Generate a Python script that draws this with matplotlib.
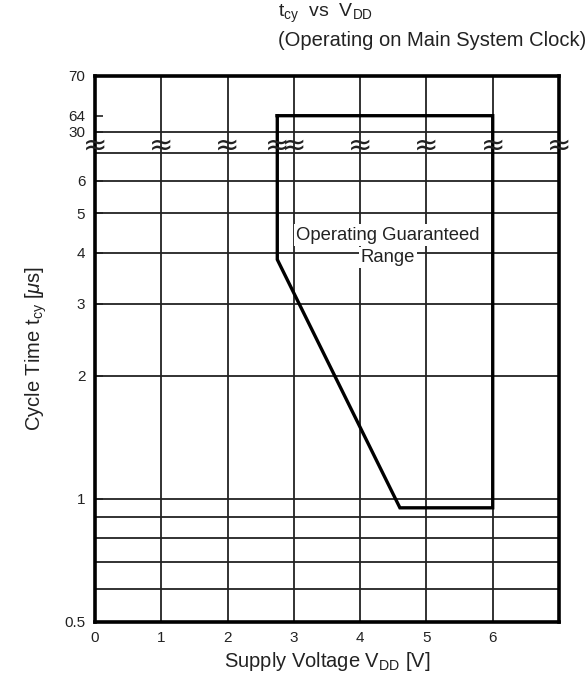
import numpy as np
import matplotlib
matplotlib.use("Agg")
import matplotlib.pyplot as plt

plt.rcParams['font.family'] = ['Liberation Sans', 'DejaVu Sans']
plt.rcParams['mathtext.fontset'] = 'custom'
plt.rcParams['mathtext.rm'] = 'Liberation Sans'
plt.rcParams['mathtext.it'] = 'Liberation Sans:italic'

# Operating guaranteed range (supply voltage [V], cycle time [us])
vdd = [2.75, 6.0, 6.0, 4.6, 2.75, 2.75]
tcy = [64, 64, 0.95, 0.95, 3.85, 64]

# axis ticks / grid
x_ticks = [0, 1, 2, 3, 4, 5, 6]
y_ticks = [0.5, 1, 2, 3, 4, 5, 6, 30, 64, 70]
y_labels = ['0.5', '1', '2', '3', '4', '5', '6', '30', '64', '70']
h_grid = [0.6, 0.7, 0.8, 0.9, 1, 2, 3, 4, 5, 6, 7, 30]
v_grid = [1, 2, 3, 4, 5, 6]
break_x = [0, 1, 2, 2.75, 3, 4, 5, 6, 7]
y_break = 7.3

# broken y axis: log below the break, squeezed above it
knot_v = np.log10([0.01, 0.5, y_break, 30, 64, 70, 1000])
knot_p = np.array([-693, 0, 475.7, 490, 506, 546, 1017])


def fwd(y):
    y = np.clip(np.asarray(y, dtype=float), 1e-3, None)
    return np.interp(np.log10(y), knot_v, knot_p)


def inv(p):
    return 10 ** np.interp(np.asarray(p, dtype=float), knot_p, knot_v)


fig = plt.figure(figsize=(5.88, 6.85), dpi=100)
ax = fig.add_axes([95 / 588, 1 - 621.7 / 685, 464 / 588, 546 / 685])
ax.set_yscale('function', functions=(fwd, inv))
ax.set_xlim(0, 7)
ax.set_ylim(0.5, 70)

for v in h_grid:
    ax.axhline(v, color='#222222', lw=1.3, zorder=1)
for v in v_grid:
    ax.axvline(v, color='#222222', lw=1.3, zorder=1)

ax.plot(vdd, tcy, color='black', lw=2.4, solid_joinstyle='miter', zorder=3)

for xb in break_x:
    ax.text(xb, y_break, '≈', ha='center', va='center', fontsize=21,
            family='DejaVu Sans', color='#222222', zorder=4)

ax.text(4.42, 4.42, 'Operating Guaranteed', ha='center', va='center', fontsize=13.3,
        color='#222222', bbox=dict(fc='white', ec='none', pad=1.5), zorder=5)
ax.text(4.42, 3.9, 'Range', ha='center', va='center', fontsize=13.3,
        color='#222222', bbox=dict(fc='white', ec='none', pad=1.5), zorder=5)

ax.set_xticks(x_ticks)
ax.set_yticks(y_ticks)
ax.set_yticklabels(y_labels)
ax.yaxis.set_minor_locator(plt.NullLocator())
ax.tick_params(axis='y', direction='in', length=6, width=1.2, pad=7, labelsize=11, colors='#222222')
ax.tick_params(axis='x', direction='in', length=0, pad=7, labelsize=11, colors='#222222')
for s in ax.spines.values():
    s.set_linewidth(2.6)

ax.set_xlabel(r'Supply Voltage V$_{\rm DD}$ [V]', fontsize=14.5, labelpad=3, color='#222222')
ax.set_ylabel(r'Cycle Time t$_{\rm cy}$ [$\mathit{\mu}$s]', fontsize=14.5, labelpad=11, color='#222222')

fig.text(278 / 588, 1 - 13 / 685, r't$_{\rm cy}$  vs  V$_{\rm DD}$', fontsize=14,
         ha='left', va='center', color='#222222')
fig.text(278 / 588, 1 - 40 / 685, '(Operating on Main System Clock)', fontsize=14.5,
         ha='left', va='center', color='#222222')

fig.savefig('out.png', dpi=100)
